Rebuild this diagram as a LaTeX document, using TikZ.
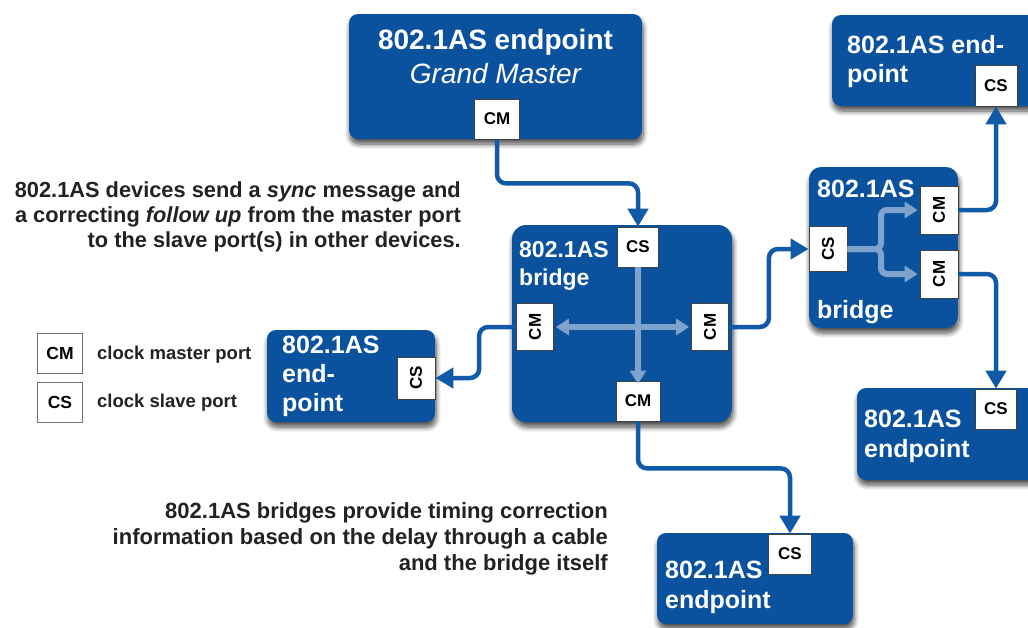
\documentclass[tikz,border=0pt]{standalone}
\usepackage{fontspec}
\setmainfont{Liberation Sans}
\usetikzlibrary{arrows.meta,shadows,shadows.blur}
\definecolor{boxblue}{RGB}{10,82,158}
\definecolor{lineblue}{RGB}{16,90,168}
\definecolor{lightblue}{RGB}{128,162,205}
\definecolor{txtgray}{RGB}{34,34,34}
\tikzset{
  dev/.style={fill=boxblue, draw=none, rounded corners=9pt, inner sep=0pt,
    blur shadow={shadow blur steps=8, shadow blur radius=5pt, shadow xshift=1pt, shadow yshift=-5pt, shadow opacity=70}},
  port/.style={draw=black!75, fill=white, line width=0.8pt, inner sep=0pt,
    font=\bfseries\fontsize{17}{17}\selectfont},
  legport/.style={draw=black!55, fill=white, line width=1pt, inner sep=0pt,
    minimum width=45pt, minimum height=40pt, font=\bfseries\fontsize{17.5}{17.5}\selectfont},
  title/.style={text=white, font=\bfseries\fontsize{25}{25}\selectfont, inner sep=0pt, anchor=base west},
  desc/.style={text=txtgray, font=\bfseries\fontsize{21.8}{21.8}\selectfont, inner sep=0pt, anchor=base east},
  legtxt/.style={text=txtgray, font=\bfseries\fontsize{18.5}{18.5}\selectfont, inner sep=0pt, anchor=base west},
  conn/.style={draw=lineblue, line width=4.5pt, rounded corners=9pt,
    -{Triangle[length=18pt,width=20pt]}},
  inner/.style={draw=lightblue, line width=6pt, rounded corners=6pt,
    -{Triangle[length=13pt,width=16pt]}},
}
\begin{document}
\begin{tikzpicture}[x=1pt,y=-1pt]
\useasboundingbox (0,0) rectangle (1028,627);
\begin{scope}
\clip (0,0) rectangle (1028,627);
% device boxes
\node[dev, minimum width=293pt, minimum height=125pt] (gm) at (495.5,76.5) {};
\node[dev, minimum width=220pt, minimum height=197pt, rounded corners=14pt] (br) at (622,323.5) {};
\node[dev, minimum width=149pt, minimum height=161pt, rounded corners=12pt] (rb) at (883.5,247.5) {};
\node[dev, minimum width=168pt, minimum height=92pt] (le) at (351,376) {};
\node[dev, minimum width=220pt, minimum height=91pt] (tr) at (942,60.5) {};
\node[dev, minimum width=190pt, minimum height=92pt] (lr) at (952,434) {};
\node[dev, minimum width=196pt, minimum height=91pt] (be) at (755,578.5) {};

% titles
\node[text=white, font=\bfseries\fontsize{28}{28}\selectfont, inner sep=0pt, anchor=base] (gmt1) at (495.5,49) {802.1AS endpoint};
\node[text=white, font=\itshape\fontsize{28}{28}\selectfont, inner sep=0pt, anchor=base] (gmt2) at (495.5,83) {Grand Master};
\node[title, font=\bfseries\fontsize{23}{23}\selectfont] (brt1) at (519,257) {802.1AS};
\node[title, font=\bfseries\fontsize{23}{23}\selectfont] (brt2) at (519,285) {bridge};
\node[title] (rbt1) at (817,197) {802.1AS};
\node[title] (rbt2) at (817,318) {bridge};
\node[title] (let1) at (282,353) {802.1AS};
\node[title] (let2) at (282,382) {end-};
\node[title] (let3) at (282,411) {point};
\node[title] (trt1) at (847,53) {802.1AS end-};
\node[title] (trt2) at (847,82) {point};
\node[title] (lrt1) at (864,427) {802.1AS};
\node[title] (lrt2) at (864,457) {endpoint};
\node[title] (bet1) at (665,578) {802.1AS};
\node[title] (bet2) at (665,608) {endpoint};

% ports
\node[port, minimum width=45pt, minimum height=40pt] (gmcm) at (497,119) {CM};
\node[port, minimum width=41pt, minimum height=40pt] (bcs) at (638,247) {CS};
\node[port, minimum width=37pt, minimum height=47pt] (bcml) at (535,327) {\rotatebox{90}{CM}};
\node[port, minimum width=37pt, minimum height=47pt] (bcmr) at (710,327) {\rotatebox{90}{CM}};
\node[port, minimum width=44pt, minimum height=40pt] (bcmb) at (638,401) {CM};
\node[port, minimum width=38pt, minimum height=45pt] (rbcs) at (828,249) {\rotatebox{90}{CS}};
\node[port, minimum width=38pt, minimum height=48pt] (rbcma) at (939,210) {\rotatebox{90}{CM}};
\node[port, minimum width=38pt, minimum height=48pt] (rbcmb) at (939,274) {\rotatebox{90}{CM}};
\node[port, minimum width=38pt, minimum height=42pt] (lecs) at (416,378) {\rotatebox{90}{CS}};
\node[port, minimum width=42pt, minimum height=41pt] (trcs) at (996,85.5) {CS};
\node[port, minimum width=41pt, minimum height=40pt] (lrcs) at (996,409) {CS};
\node[port, minimum width=43pt, minimum height=40pt] (becs) at (790,554) {CS};

% internal light arrows
\draw[inner] (bcs.south) -- ([yshift=-3pt]bcmb.north);
\draw[inner, {Triangle[length=13pt,width=16pt]}-{Triangle[length=13pt,width=16pt]}] ([xshift=2pt]bcml.east) -- ([xshift=-2pt]bcmr.west);
\coordinate (rbsplit) at (881,249);
\draw[inner] (rbcs.east) -- (rbsplit) |- ([xshift=-2pt]rbcma.west);
\draw[inner] (rbcs.east) -- (rbsplit) |- ([xshift=-2pt]rbcmb.west);

% connectors
\draw[conn] (gmcm.south) -- ++(0,44) -| (bcs.north);
\draw[conn] (bcmr.east) -- ++(40,0) |- (rbcs.west);
\draw[conn] (bcml.west) -- ++(-37,0) |- (lecs.east);
\draw[conn] (bcmb.south) -- ++(0,47) -| (becs.north);
\draw[conn] (rbcma.east) -| (trcs.south);
\draw[conn] (rbcmb.east) -| (lrcs.north);
\end{scope}

% description texts
\node[desc] (d1) at (461,197) {802.1AS devices send a \textit{sync} message and};
\node[desc] (d2) at (461,222) {a correcting \textit{follow up} from the master port};
\node[desc] (d3) at (461,247) {to the slave port(s) in other devices.};
\node[desc, font=\bfseries\fontsize{22}{22}\selectfont] (e1) at (608,518) {802.1AS bridges provide timing correction};
\node[desc, font=\bfseries\fontsize{22}{22}\selectfont] (e2) at (608,544) {information based on the delay through a cable};
\node[desc, font=\bfseries\fontsize{22}{22}\selectfont] (e3) at (608,570) {and the bridge itself};

% legend
\node[legport] (lcm) at (60,353) {CM};
\node[legport] (lcs) at (60,402) {CS};
\node[legtxt] (lcmt) at (97,359) {clock master port};
\node[legtxt] (lcst) at (97,407) {clock slave port};
\end{tikzpicture}
\end{document}
